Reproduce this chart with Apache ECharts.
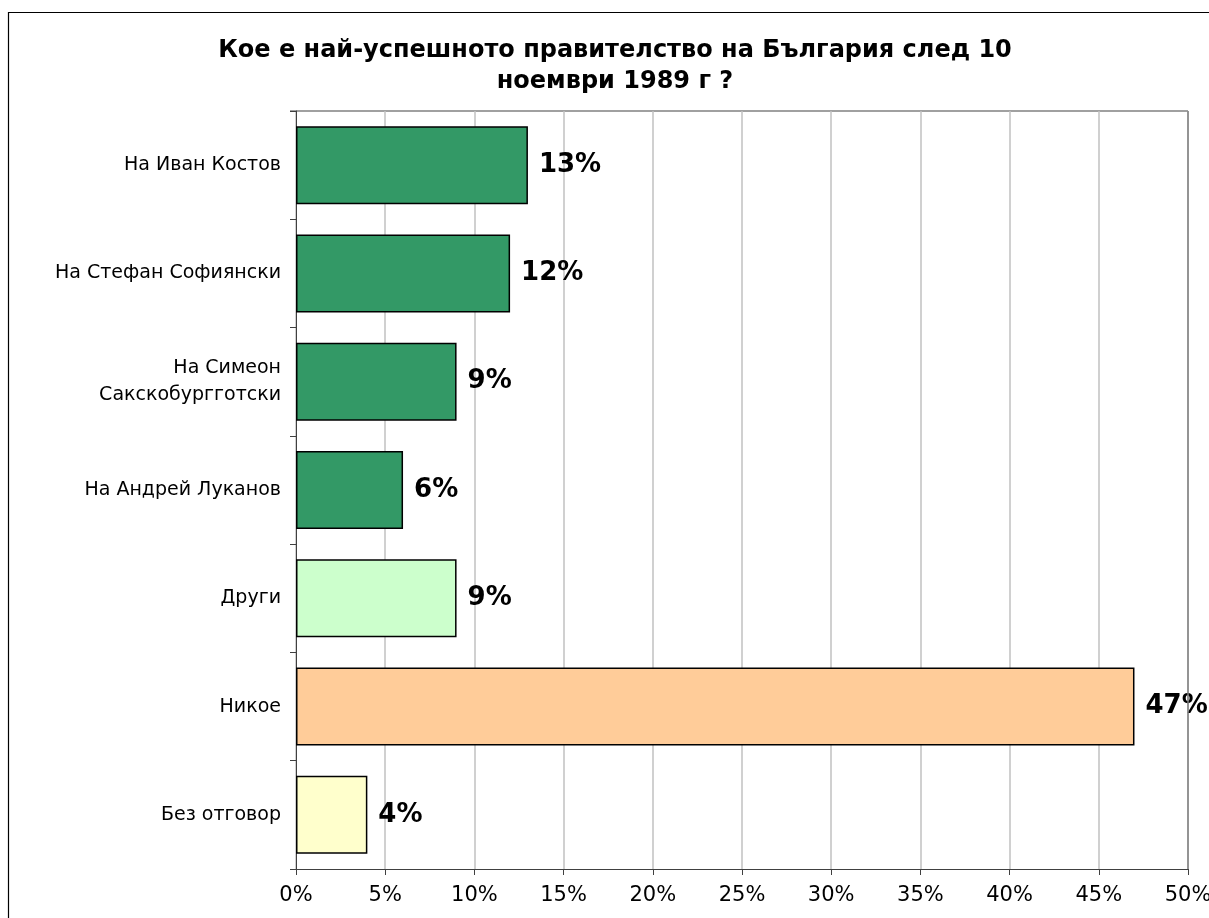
<!DOCTYPE html>
<html>
<head>
<meta charset="utf-8">
<script src="https://cdn.jsdelivr.net/npm/echarts@6/dist/echarts.min.js"></script>
<style>
  html, body { margin: 0; padding: 0; background: #fff; }
  #chart { width: 1209px; height: 918px; }
</style>
</head>
<body>
<div id="chart"></div>
<script>
var categories = ['На Иван Костов', 'На Стефан Софиянски', 'На Симеон\nСакскобургготски',
    'На Андрей Луканов', 'Други', 'Никое', 'Без отговор'];
var values = [13, 12, 9, 6, 9, 47, 4];
var barColors = ['#339966', '#339966', '#339966', '#339966', '#CCFFCC', '#FFCC99', '#FFFFCC'];

var font = 'Verdana, "DejaVu Sans", sans-serif';

var chart = echarts.init(document.getElementById('chart'));
chart.setOption({
    animation: false,
    title: {
        text: 'Кое е най-успешното правителство на България след 10\nноември 1989 г ?',
        left: 610,
        top: 30,
        textAlign: 'center',
        textStyle: { fontFamily: font, fontWeight: 'bold', fontSize: 24, lineHeight: 31, color: '#000' }
    },
    graphic: [{
        type: 'rect',
        shape: { x: 8.5, y: 12.5, width: 1220, height: 930 },
        style: { fill: 'none', stroke: '#000', lineWidth: 1.2 },
        silent: true,
        z: -1
    }, {
        type: 'line',
        shape: { x1: 290, y1: 111, x2: 1188, y2: 111 },
        style: { stroke: '#808080', lineWidth: 1.5 },
        silent: true
    }],
    grid: { left: 296, right: 21, top: 111, bottom: 49, outerBoundsMode: 'none', containLabel: false },
    xAxis: {
        type: 'value',
        min: 0,
        max: 50,
        interval: 5,
        position: 'bottom',
        axisLine: { show: true, lineStyle: { color: '#404040', width: 1 } },
        axisTick: { show: true, length: 6, lineStyle: { color: '#404040' } },
        axisLabel: { formatter: '{value}%', fontFamily: font, fontSize: 21, color: '#000', margin: 16 },
        splitLine: { show: true, lineStyle: { color: '#c0c0c0', width: 1.5 } }
    },
    yAxis: {
        type: 'category',
        data: categories,
        inverse: true,
        axisLine: { show: true, lineStyle: { color: '#404040', width: 1 } },
        axisTick: { show: true, length: 6, lineStyle: { color: '#404040' } },
        axisLabel: { fontFamily: font, fontSize: 19, color: '#000', margin: 15, lineHeight: 27 },
        splitLine: { show: false }
    },
    series: [{
        type: 'bar',
        data: values.map(function (v, i) {
            return { value: v, itemStyle: { color: barColors[i] } };
        }),
        barCategoryGap: '28%',
        itemStyle: { borderColor: '#000', borderWidth: 1.5 },
        label: {
            show: true,
            position: 'right',
            distance: 11,
            formatter: '{c}%',
            fontFamily: font,
            fontWeight: 'bold',
            fontSize: 26,
            color: '#000'
        }
    }, {
        // right plot border
        type: 'line',
        data: [],
        markLine: {
            silent: true,
            symbol: 'none',
            label: { show: false },
            lineStyle: { color: '#808080', width: 1.5, type: 'solid' },
            data: [{ xAxis: 50 }]
        }
    }]
});
</script>
</body>
</html>
